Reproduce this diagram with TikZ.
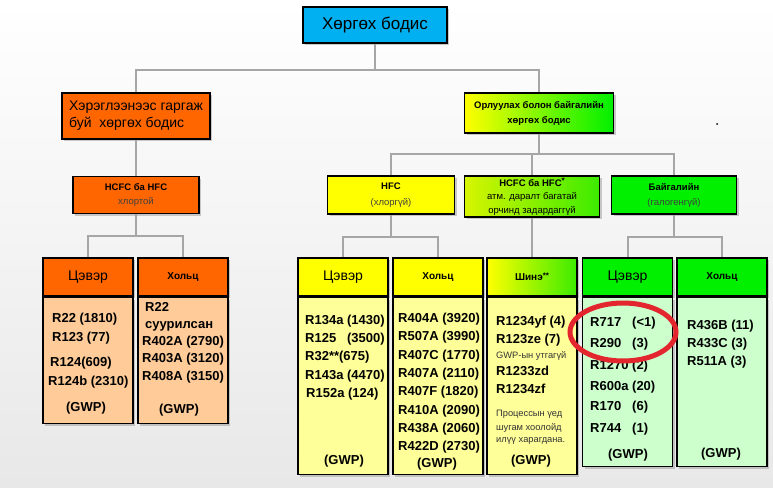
\documentclass[tikz,border=0pt]{standalone}
\usepackage{fontspec}
\setmainfont{Liberation Sans}
\usetikzlibrary{positioning,shadows}

\definecolor{topblue}{HTML}{00B0F0}
\definecolor{hcfcorange}{HTML}{FF6600}
\definecolor{hcfclight}{HTML}{FFCC99}
\definecolor{hfcyellow}{HTML}{FFFF00}
\definecolor{hfclight}{HTML}{FFFF99}
\definecolor{natgreen}{HTML}{00F000}
\definecolor{natlight}{HTML}{CCFFCC}
\definecolor{newleft}{HTML}{D7F500}
\definecolor{newright}{HTML}{3CEB00}
\definecolor{linkgray}{HTML}{A6A6A6}
\definecolor{markred}{HTML}{E3262E}

\newcommand{\gasrow}[2]{\makebox[42pt][l]{#1}#2}
\newcommand{\starmark}[1]{{\fontsize{8}{8}\selectfont\raisebox{2.5pt}{#1}}}

\tikzset{
  box/.style={draw=black, line width=1.6pt, inner sep=1pt, align=center,
    drop shadow={shadow xshift=2pt, shadow yshift=-2pt, fill=black!40, opacity=.5}},
  colhead/.style={box, minimum width=90pt, minimum height=38pt},
  cleanhead/.style={colhead, font=\fontsize{14}{16}\selectfont},
  mixhead/.style={colhead, font=\fontsize{10}{12}\selectfont\bfseries},
  colbody/.style={box, minimum width=90pt, minimum height=#1},
  connector/.style={draw=linkgray, line width=2pt},
  entry/.style={anchor=west, inner sep=0pt, font=\fontsize{13}{15}\selectfont\bfseries},
  gwp/.style={inner sep=0pt, font=\fontsize{13}{15}\selectfont\bfseries},
  smallnote/.style={anchor=west, inner sep=0pt, text=black!80, font=\fontsize{9.3}{11}\selectfont},
}

\begin{document}
\begin{tikzpicture}[x=1pt,y=-1pt]
    \useasboundingbox (0,0) rectangle (773,487);
    \shade[top color=white, bottom color=black!9] (0,0) rectangle (773,487);

    % top
    \node[box, fill=topblue, minimum width=144pt, minimum height=36pt, font=\fontsize{17}{20}\selectfont] (top) at (375,25) {Хөргөх бодис};

    % level 1
    \node[box, fill=hcfcorange, minimum width=148pt, minimum height=46pt, align=left, font=\fontsize{14}{17}\selectfont] (used) at (136,116) {Хэрэглээнээс гаргаж\\буй\ \ хөргөх бодис};
    \node[box, left color=hfcyellow, right color=natgreen, minimum width=149pt, minimum height=40pt, font=\fontsize{9.5}{15}\selectfont\bfseries] (subst) at (539,113) {Орлуулах болон байгалийн\\хөргөх бодис};
    \fill (717,124) circle [radius=1];

    % level 2
    \node[box, fill=hcfcorange, minimum width=126pt, minimum height=37pt, font=\fontsize{9.5}{14}\selectfont] (hcfc) at (136,195) {\textbf{HCFC ба HFC}\\{\color{black!75}хлортой}};
    \node[box, fill=hfcyellow, minimum width=127pt, minimum height=38pt, font=\fontsize{9.5}{16}\selectfont] (hfc) at (391,195) {\textbf{HFC}\\{\color{black!75}(хлоргүй)}};
    \node[box, left color=newleft, right color=newright, minimum width=135pt, minimum height=41pt, font=\fontsize{9.5}{13.5}\selectfont] (newgen) at (532,196.5) {\textbf{HCFC ба HFC\starmark{*}}\\атм. даралт багатай\\орчинд задардаггүй};
    \node[box, fill=natgreen, minimum width=125pt, minimum height=38pt, font=\fontsize{9.5}{15}\selectfont] (natural) at (674,195) {\textbf{Байгалийн}\\{\color{black!75}(галогенгүй)}};

    % level 3 heads
    \node[cleanhead, fill=hcfcorange] (hcfcPure) at (88,277) {Цэвэр};
    \node[mixhead, fill=hcfcorange] (hcfcMix) at (183,277) {Хольц};
    \node[cleanhead, fill=hfcyellow] (hfcPure) at (343,277) {Цэвэр};
    \node[mixhead, fill=hfcyellow] (hfcMix) at (438,277) {Хольц};
    \node[mixhead, left color=hfcyellow, right color=newright] (newPure) at (532,277) {Шинэ\starmark{**}};
    \node[cleanhead, fill=natgreen] (natPure) at (627.5,277) {Цэвэр};
    \node[mixhead, fill=natgreen] (natMix) at (722,277) {Хольц};

    % level 3 bodies
    \node[colbody=126pt, fill=hcfclight, below=0pt of hcfcPure] (hcfcPureList) {};
    \node[colbody=126pt, fill=hcfclight, below=0pt of hcfcMix] (hcfcMixList) {};
    \node[colbody=177pt, fill=hfclight, below=0pt of hfcPure] (hfcPureList) {};
    \node[colbody=177pt, fill=hfclight, below=0pt of hfcMix] (hfcMixList) {};
    \node[colbody=177pt, fill=hfclight, below=0pt of newPure] (newPureList) {};
    \node[colbody=169pt, fill=natlight, below=0pt of natPure] (natPureList) {};
    \node[colbody=169pt, fill=natlight, below=0pt of natMix] (natMixList) {};

    % connectors
    \draw[connector] (top.south) -- ++(0,26) -| (used.north);
    \draw[connector] (top.south) -- ++(0,26) -| (subst.north);
    \draw[connector] (used.south) -- (hcfc.north);
    \draw[connector] (subst.south) -- ++(0,20) -| (hfc.north);
    \draw[connector] (subst.south) -- ++(0,20) -| (newgen.north);
    \draw[connector] (subst.south) -- ++(0,20) -| (natural.north);
    \draw[connector] (hcfc.south) -- ++(0,22) -| (hcfcPure.north);
    \draw[connector] (hcfc.south) -- ++(0,22) -| (hcfcMix.north);
    \draw[connector] (hfc.south) -- ++(0,22) -| (hfcPure.north);
    \draw[connector] (hfc.south) -- ++(0,22) -| (hfcMix.north);
    \draw[connector] (newgen.south) -- (newPure.north);
    \draw[connector] (natural.south) -- ++(0,22) -| (natPure.north);
    \draw[connector] (natural.south) -- ++(0,22) -| (natMix.north);

    % HCFC lists
    \node[entry] (hcfcp1) at (52,319) {R22 (1810)};
    \node[entry] (hcfcp2) at (52,338) {R123 (77)};
    \node[entry] (hcfcp3) at (50,363) {R124(609)};
    \node[entry] (hcfcp4) at (48,382) {R124b (2310)};
    \node[gwp] (hcfcpG) at (86,408) {(GWP)};

    \node[entry] (hcfcm1) at (145,307) {R22};
    \node[entry] (hcfcm2) at (145,326) {суурилсан};
    \node[entry] (hcfcm3) at (142,342) {R402A (2790)};
    \node[entry] (hcfcm4) at (142,359) {R403A (3120)};
    \node[entry] (hcfcm5) at (142,377) {R408A (3150)};
    \node[gwp] (hcfcmG) at (179,410) {(GWP)};

    % HFC lists
    \node[entry] (hfcp1) at (305,321) {R134a (1430)};
    \node[entry] (hfcp2) at (305,339) {R125\hphantom{a} (3500)};
    \node[entry] (hfcp3) at (305,357) {R32**(675)};
    \node[entry] (hfcp4) at (305,376) {R143a (4470)};
    \node[entry] (hfcp5) at (306,394) {R152a (124)};
    \node[gwp] (hfcpG) at (344,461) {(GWP)};

    \node[entry] (hfcm1) at (398,319) {R404A (3920)};
    \node[entry] (hfcm2) at (398,337) {R507A (3990)};
    \node[entry] (hfcm3) at (398,356) {R407C (1770)};
    \node[entry] (hfcm4) at (398,374) {R407A (2110)};
    \node[entry] (hfcm5) at (398,392) {R407F (1820)};
    \node[entry] (hfcm6) at (398,411) {R410A (2090)};
    \node[entry] (hfcm7) at (398,429) {R438A (2060)};
    \node[entry] (hfcm8) at (398,447) {R422D (2730)};
    \node[gwp] (hfcmG) at (437,464) {(GWP)};

    % new generation list
    \node[entry] (newp1) at (496,322) {R1234yf (4)};
    \node[entry] (newp2) at (496,340) {R123ze (7)};
    \node[smallnote] (newn1) at (496,356) {GWP-ын утгагүй};
    \node[entry] (newp3) at (496,371) {R1233zd};
    \node[entry] (newp4) at (496,389) {R1234zf};
    \node[smallnote] (newn2) at (496,414) {Процессын үед};
    \node[smallnote] (newn3) at (496,428) {шугам хоолойд};
    \node[smallnote] (newn4) at (496,441) {илүү харагдана.};
    \node[gwp] (newpG) at (531,461) {(GWP)};

    % natural lists
    \node[entry] (natp1) at (590,323) {\gasrow{R717}{(<1)}};
    \node[entry] (natp2) at (590,344) {\gasrow{R290}{(3)}};
    \node[entry] (natp3) at (590,366) {\gasrow{R1270}{(2)}};
    \node[entry] (natp4) at (590,387) {\gasrow{R600a}{(20)}};
    \node[entry] (natp5) at (590,407) {\gasrow{R170}{(6)}};
    \node[entry] (natp6) at (590,429) {\gasrow{R744}{(1)}};
    \node[gwp] (natpG) at (628,455) {(GWP)};

    \node[entry] (natm1) at (687,326) {R436B (11)};
    \node[entry] (natm2) at (687,344) {R433C (3)};
    \node[entry] (natm3) at (687,362) {R511A (3)};
    \node[gwp] (natmG) at (721,454) {(GWP)};

    % red mark
    \draw[markred, line width=5pt] (623,332) ellipse [x radius=53, y radius=29];
\end{tikzpicture}
\end{document}
